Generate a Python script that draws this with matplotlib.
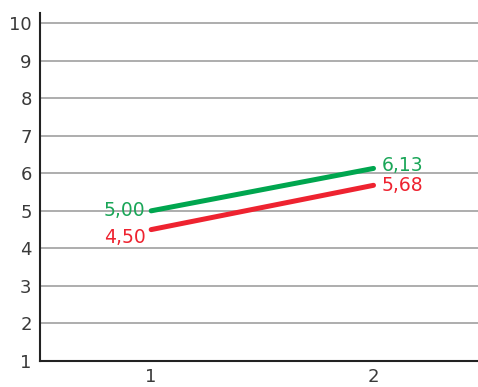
import matplotlib
matplotlib.use("Agg")
import matplotlib.pyplot as plt

plt.rcParams['font.family'] = ['DejaVu Sans']

x = [1, 2]
green_vals = [5.00, 6.13]
red_vals = [4.50, 5.68]
yticks = list(range(1, 11))

fig = plt.figure(figsize=(4.78, 3.87), dpi=100)
ax = fig.add_axes([40 / 478, 26 / 387, 1 - 40 / 478, (361 - 13) / 387])

for y in yticks:
    ax.axhline(y, color='#a0a0a0', lw=1.2, zorder=1)

ax.plot(x, green_vals, color='#00a64f', lw=3.6, solid_capstyle='round', zorder=3)
ax.plot(x, red_vals, color='#ee2330', lw=3.6, solid_capstyle='round', zorder=3)

fmt = lambda v: f'{v:.2f}'.replace('.', ',')
lab = dict(fontsize=13.5, textcoords='offset points', va='center')
ax.annotate(fmt(green_vals[0]), (x[0], green_vals[0]), xytext=(-4, 0),
            ha='right', color='#1aa658', **lab)
ax.annotate(fmt(red_vals[0]), (x[0], red_vals[0]), xytext=(-4, -6),
            ha='right', color='#ee2330', **lab)
ax.annotate(fmt(green_vals[1]), (x[1], green_vals[1]), xytext=(6, 2),
            ha='left', color='#1aa658', **lab)
ax.annotate(fmt(red_vals[1]), (x[1], red_vals[1]), xytext=(6, 0),
            ha='left', color='#ee2330', **lab)

ax.set_xlim(0.5, 2.47)
ax.set_ylim(1, 10.27)
ax.set_xticks(x)
ax.set_yticks(yticks)
ax.tick_params(length=0, labelsize=13, labelcolor='#3a3a3a', pad=5)
ax.tick_params(axis='y', pad=6)
for s in ['top', 'right']:
    ax.spines[s].set_visible(False)
for s in ['left', 'bottom']:
    ax.spines[s].set_color('#222222')
    ax.spines[s].set_linewidth(1.5)
    ax.spines[s].set_zorder(4)

fig.savefig('out.png', dpi=100)
